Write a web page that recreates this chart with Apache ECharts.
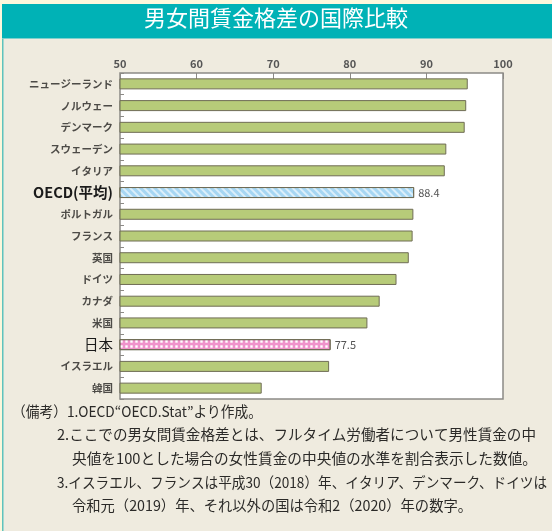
<!DOCTYPE html>
<html>
<head>
<meta charset="utf-8">
<script src="https://cdn.jsdelivr.net/npm/echarts@6/dist/echarts.min.js"></script>
<style>
  html, body { margin: 0; padding: 0; background: #efebdf; }
  #chart { width: 552px; height: 531px; }
</style>
</head>
<body>
<div id="chart"></div>
<script>
// 男女間賃金格差の国際比較 (男性=100)
const countries = ["ニュージーランド", "ノルウェー", "デンマーク", "スウェーデン", "イタリア", "OECD(平均)",
  "ポルトガル", "フランス", "英国", "ドイツ", "カナダ", "米国", "日本", "イスラエル", "韓国"];
const values = [95.4, 95.2, 95.0, 92.6, 92.4, 88.4, 88.3, 88.2, 87.7, 86.1, 83.9, 82.3, 77.5, 77.3, 68.5];
const xTicks = [50, 60, 70, 80, 90, 100];
const notes = [
  "（備考）1.OECD“OECD.Stat”より作成。",
  "2.ここでの男女間賃金格差とは、フルタイム労働者について男性賃金の中",
  "央値を100とした場合の女性賃金の中央値の水準を割合表示した数値。",
  "3.イスラエル、フランスは平成30（2018）年、イタリア、デンマーク、ドイツは",
  "令和元（2019）年、それ以外の国は令和2（2020）年の数字。"
];

const FONT = "'Noto Sans CJK JP', 'Noto Sans', sans-serif";
const GREEN = "#b7cb79";
const EDGE = "#6f6c55";
const NOTE_FONT = "14.5px " + FONT;

const chart = echarts.init(document.getElementById("chart"));

function barItem(name, v) {
  if (name === "OECD(平均)") {
    return {
      value: v,
      itemStyle: {
        color: "#a6d6f2",
        decal: { symbol: "rect", color: "rgba(255,255,255,0.6)", dashArrayX: [1, 0], dashArrayY: [2, 3], rotation: Math.PI / 4 }
      },
      label: { show: true }
    };
  }
  if (name === "日本") {
    return {
      value: v,
      itemStyle: {
        color: "#ef93cb",
        decal: { symbol: "rect", symbolSize: 0.8, color: "#ffffff", dashArrayX: [3, 2], dashArrayY: [3, 2] }
      },
      label: { show: true }
    };
  }
  return { value: v };
}

// footnote lines: left edge, baseline-centre y and right edge in the reference
const noteX = [12, 57, 72, 57, 72];
const noteY = [411, 434, 458, 482, 505];
const noteEnd = [262, 536, 537, 547, 472];
const ctx = document.createElement("canvas").getContext("2d");
ctx.font = NOTE_FONT;
function noteScale(i) {
  const w = ctx.measureText(notes[i]).width;
  const s = (noteEnd[i] - noteX[i]) / w;
  return Math.max(0.85, Math.min(1.1, s));
}

chart.setOption({
  backgroundColor: "#efebdf",
  animation: false,
  grid: {
    left: 120, right: 49, top: 73, bottom: 132,
    show: true, backgroundColor: "#ffffff", borderColor: "#8c8a86", borderWidth: 1.5
  },
  xAxis: {
    type: "value",
    position: "top",
    min: xTicks[0],
    max: xTicks[xTicks.length - 1],
    interval: 10,
    axisLine: { show: false },
    axisTick: { show: true, inside: true, length: 6, lineStyle: { color: "#8c8a86" } },
    splitLine: { show: false },
    axisLabel: { color: "#555", fontSize: 11, fontWeight: "bold", fontFamily: FONT, margin: 4 }
  },
  yAxis: {
    type: "category",
    inverse: true,
    data: countries,
    axisLine: { show: false },
    axisTick: { show: true, inside: true, length: 4, lineStyle: { color: "#8c8a86" } },
    axisLabel: {
      margin: 7,
      fontFamily: FONT,
      formatter: (s) => s === "OECD(平均)" ? "{oecd|" + s + "}" : s === "日本" ? "{jp|" + s + "}" : "{n|" + s + "}",
      rich: {
        n: { fontSize: 10.5, fontWeight: "bold", color: "#4d4b47", fontFamily: FONT },
        oecd: { fontSize: 14.5, fontWeight: "bold", color: "#1a1a1a", fontFamily: FONT },
        jp: { fontSize: 14.5, color: "#1a1a1a", fontFamily: FONT }
      }
    }
  },
  series: [{
    type: "bar",
    barWidth: 11,
    data: countries.map((c, i) => barItem(c, values[i])),
    itemStyle: { color: GREEN, borderColor: EDGE, borderWidth: 1 },
    label: {
      show: false,
      position: "right",
      distance: 4,
      color: "#555",
      fontSize: 11,
      fontFamily: FONT
    }
  }],
  graphic: [
    { type: "rect", shape: { x: 0, y: 0, width: 552, height: 4 }, style: { fill: "#fcf7dc" } },
    { type: "rect", shape: { x: 0, y: 0, width: 2, height: 531 }, style: { fill: "#fcf7dc" } },
    { type: "rect", shape: { x: 2, y: 4, width: 1.5, height: 527 }, style: { fill: "#5fc3bd" } },
    { type: "rect", shape: { x: 2, y: 4, width: 550, height: 34 }, style: { fill: "#00b2b6" } },
    { type: "rect", shape: { x: 2, y: 38, width: 550, height: 1 }, style: { fill: "#7fd0cc" } },
    {
      type: "text", left: "center", top: 7,
      style: { text: "男女間賃金格差の国際比較", fill: "#ffffff", font: "22px " + FONT }
    },
    ...notes.map((t, i) => ({
      type: "text", x: noteX[i], y: noteY[i], scaleX: noteScale(i),
      style: { text: t, fill: "#2b2a28", font: NOTE_FONT, verticalAlign: "middle" }
    }))
  ]
});
</script>
</body>
</html>
